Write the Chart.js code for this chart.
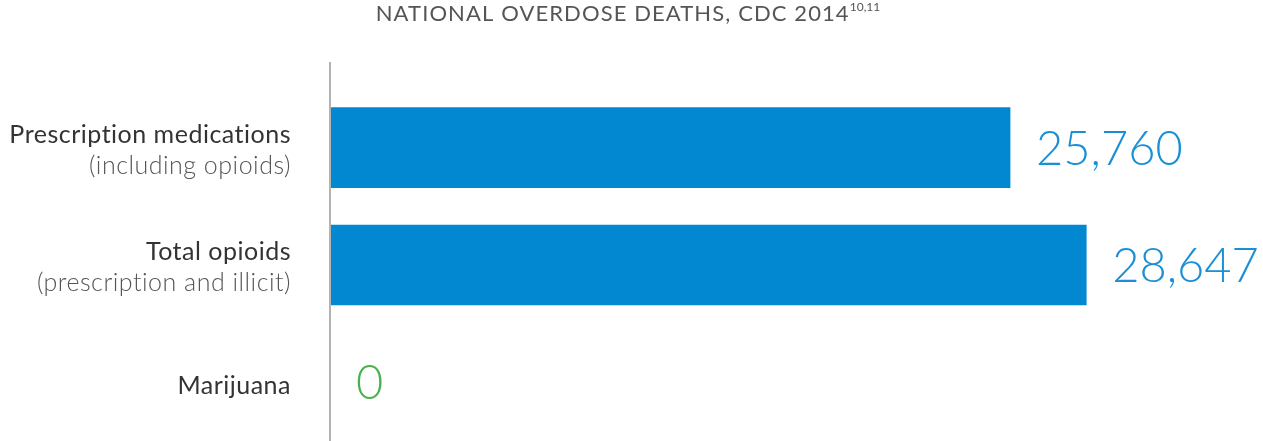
<!DOCTYPE html>
<html>
<head>
<meta charset="utf-8">
<script src="https://cdn.jsdelivr.net/npm/chart.js@4"></script>
<style>
  html, body { margin: 0; padding: 0; background: #fff; }
  .wrap { width: 1263px; height: 441px; position: relative; }
</style>
</head>
<body>
<div class="wrap"><canvas id="myChart"></canvas></div>
<script>
// data
var categories = ["Prescription medications", "Total opioids", "Marijuana"];
var subLabels = ["(including opioids)", "(prescription and illicit)", ""];
var deaths = [25760, 28647, 0];
var valueColors = ["#1a8fd6", "#1a8fd6", "#4caf50"];
var titleText = "NATIONAL OVERDOSE DEATHS, CDC 2014";
var titleNote = "10,11";

// axis line, title, category labels and value labels
var drawText = {
    id: "drawText",
    afterDatasetsDraw: function (chart) {
        var ctx = chart.ctx;
        var area = chart.chartArea;
        var yScale = chart.scales.y;
        ctx.save();

        // vertical axis line
        ctx.strokeStyle = "#b3b3b3";
        ctx.lineWidth = 2;
        ctx.beginPath();
        ctx.moveTo(area.left, 62);
        ctx.lineTo(area.left, chart.height);
        ctx.stroke();

        // title with superscript note
        ctx.fillStyle = "#555";
        ctx.textBaseline = "alphabetic";
        ctx.letterSpacing = "1.1px";
        ctx.font = "400 22px Lato";
        var w1 = ctx.measureText(titleText).width;
        ctx.letterSpacing = "0px";
        ctx.font = "400 12px Lato";
        var w2 = ctx.measureText(titleNote).width;
        var x0 = 628 - (w1 + w2) / 2;
        ctx.letterSpacing = "1.1px";
        ctx.font = "400 22px Lato";
        ctx.textAlign = "left";
        ctx.fillText(titleText, x0, 21);
        ctx.letterSpacing = "0px";
        ctx.font = "400 12px Lato";
        ctx.fillText(titleNote, x0 + w1, 11);

        // category labels
        ctx.letterSpacing = "0.5px";
        categories.forEach(function (name, i) {
            var cy = yScale.getPixelForValue(i);
            ctx.textAlign = "right";
            if (subLabels[i]) {
                ctx.fillStyle = "#333";
                ctx.font = "400 25px Lato";
                ctx.fillText(name, 291, cy - 5);
                ctx.fillStyle = "#555";
                ctx.font = "300 25px Lato";
                ctx.fillText(subLabels[i], 291, cy + 26);
            } else {
                ctx.fillStyle = "#333";
                ctx.font = "400 25px Lato";
                ctx.fillText(name, 291, cy + 12);
            }
        });
        ctx.letterSpacing = "0px";

        // value labels
        var meta = chart.getDatasetMeta(0);
        meta.data.forEach(function (bar, i) {
            ctx.fillStyle = valueColors[i];
            ctx.font = "300 47px Lato";
            ctx.textAlign = "left";
            ctx.fillText(deaths[i].toLocaleString("en-US"), bar.x + 26, bar.y + 17);
        });
        ctx.restore();
    }
};

new Chart("myChart", {
    type: "bar",
    data: {
        labels: categories,
        datasets: [{
            data: deaths,
            backgroundColor: "#0288d1",
            barThickness: 80
        }]
    },
    options: {
        indexAxis: "y",
        responsive: true,
        maintainAspectRatio: false,
        animation: false,
        layout: { padding: { top: 89, right: 9, bottom: 0, left: 0 } },
        plugins: {
            legend: { display: false },
            tooltip: { enabled: false }
        },
        scales: {
            x: { display: false, min: 0, max: 35000 },
            y: {
                grid: { display: false },
                border: { display: false },
                ticks: { display: false },
                afterFit: function (scale) { scale.width = 330; }
            }
        }
    },
    plugins: [drawText]
});
</script>
</body>
</html>
